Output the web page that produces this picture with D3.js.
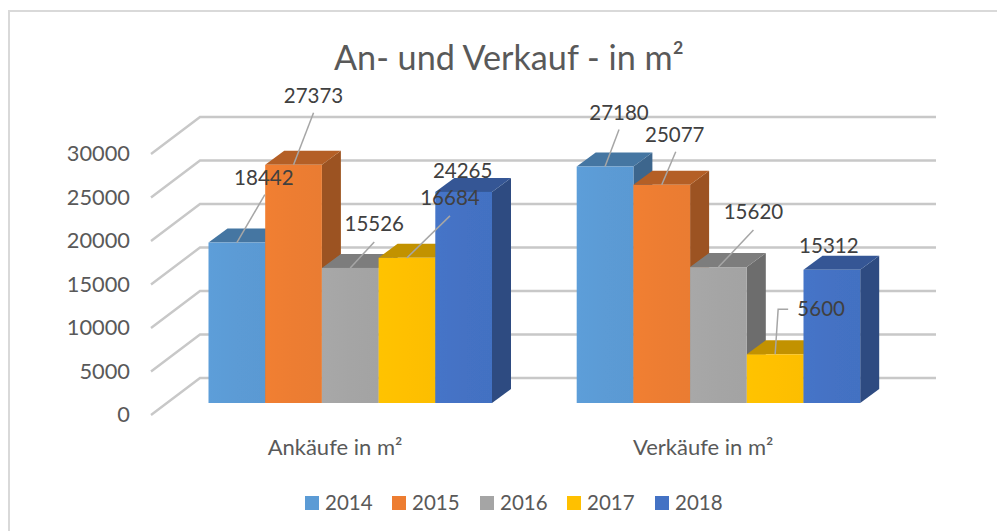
<!DOCTYPE html>
<html>
<head>
<meta charset="utf-8">
<script src="https://cdnjs.cloudflare.com/ajax/libs/d3/7.8.5/d3.min.js"></script>
<style>
html, body { margin: 0; padding: 0; background: #fff; overflow: hidden; }
svg { display: block; font-family: Lato, "Open Sans", sans-serif; }
</style>
</head>
<body>
<script>
var title = 'An- und Verkauf - in m²'
var categories = ['Ankäufe in m²', 'Verkäufe in m²']
var years = ['2014', '2015', '2016', '2017', '2018']
var ankaeufe = [18442, 27373, 15526, 16684, 24265]
var verkaeufe = [27180, 25077, 15620, 5600, 15312]
var yTicks = [0, 5000, 10000, 15000, 20000, 25000, 30000]
var colors = ['#5b9bd5', '#ed7d31', '#a5a5a5', '#ffc000', '#4472c4']

// label placement, relative to the middle of the bar's front top edge
var labelPlace = [
	[[27, -65, 28, -48], [20, -69, 20, -52], [24, -44, 24, -26], [43, -60, 43, -42], [-1, -21]],
	[[14, -54, 14, -37], [13, -50, 14, -33], [35, -55, 35, -37], [46, -45, 13, -45], [-3, -24]]
]

var width = 997, height = 531
var floorY = 403			// bottom of the bar fronts
var depth = {x: 19, y: 14}	// how far a bar goes back
var wall = {x: 49, y: 37}	// side wall diagonal
var wallFrontY = 415, wallLeft = 151, gridRight = 936

var svg = d3.select('body').append('svg')
	.attr('width', width)
	.attr('height', height)

// the frame runs off the right and bottom of the picture
svg.append('rect')
	.attr('x', 9).attr('y', 11)
	.attr('width', 1020).attr('height', 560)
	.attr('fill', '#fff')
	.attr('stroke', '#d9d9d9')
	.attr('stroke-width', 2)

svg.append('defs').append('filter')
	.attr('id', 'soft')
	.append('feGaussianBlur')
	.attr('stdDeviation', 0.45)

var barH = d3.scaleLinear().domain([0, 30000]).range([0, 261])
var yAxisScale = d3.scaleLinear().domain([0, 30000]).range([wallFrontY, wallFrontY - 261])

// one band for each group of bars
var groupLeft = d3.scaleOrdinal().domain(categories).range([208.5, 576.7])
var inner = d3.scaleBand().domain(years).range([0, 283.5])

// gridlines, side wall then back wall
var grid = svg.append('g')
	.attr('fill', 'none')
	.attr('stroke', '#c8c8c8')
	.attr('stroke-width', 2.4)
	.attr('filter', 'url(#soft)')
grid.selectAll('path').data(yTicks).enter().append('path')
	.attr('d', function(d){
		var y = yAxisScale(d)
		return 'M' + wallLeft + ',' + y + 'L' + (wallLeft + wall.x) + ',' + (y - wall.y) + 'H' + gridRight
	})

// value axis
var axis = svg.append('g')
	.attr('transform', 'translate(130,0)')
	.call(d3.axisLeft(yAxisScale).tickValues(yTicks).tickSize(0).tickPadding(0).tickFormat(d3.format('d')))
axis.select('.domain').remove()
axis.selectAll('text')
	.attr('font-size', 21.8)
	.attr('font-family', 'Lato, "Open Sans", sans-serif')
	.attr('fill', '#595959')

var defs = svg.select('defs')
colors.forEach(function(c, i){
	var g = defs.append('linearGradient').attr('id', 'front' + i)
	g.append('stop').attr('offset', '0%').attr('stop-color', d3.rgb(c).brighter(0.05))
	g.append('stop').attr('offset', '50%').attr('stop-color', c)
	g.append('stop').attr('offset', '100%').attr('stop-color', d3.rgb(c).darker(0.03))
})

function shade(c, k){
	var r = d3.rgb(c)
	return d3.rgb(r.r * k, r.g * k, r.b * k)
}

var series = [ankaeufe, verkaeufe]
var labelData = []

categories.forEach(function(cat, g){
	var group = svg.append('g').attr('filter', 'url(#soft)')
	series[g].forEach(function(v, i){
		var x0 = groupLeft(cat) + inner(years[i])
		var x1 = x0 + inner.bandwidth()
		var top = floorY - barH(v)
		var bar = group.append('g')

		bar.append('path')	// side
			.attr('d', 'M' + x1 + ',' + floorY + 'L' + (x1 + depth.x) + ',' + (floorY - depth.y)
				+ 'V' + (top - depth.y) + 'L' + x1 + ',' + top + 'Z')
			.attr('fill', shade(colors[i], 0.66))
		bar.append('path')	// top
			.attr('d', 'M' + x0 + ',' + top + 'L' + (x0 + depth.x) + ',' + (top - depth.y)
				+ 'H' + (x1 + depth.x) + 'L' + x1 + ',' + top + 'Z')
			.attr('fill', shade(colors[i], 0.76))
		bar.append('rect')	// front
			.attr('x', x0).attr('y', top)
			.attr('width', inner.bandwidth())
			.attr('height', barH(v))
			.attr('fill', 'url(#front' + i + ')')

		labelData.push({value: v, cx: (x0 + x1) / 2, top: top, place: labelPlace[g][i]})
	})
})

// leader lines and value labels go over all bars
var labels = svg.append('g')
labelData.forEach(function(d){
	var p = d.place
	if(p.length > 2){
		var pts = [[d.cx, d.top]]
		if(d.value === 5600) pts.push([d.cx + 3, d.top + p[3]])
		pts.push([d.cx + p[2], d.top + p[3]])
		labels.append('path')
			.attr('d', d3.line()(pts))
			.attr('fill', 'none')
			.attr('stroke', '#a6a6a6')
			.attr('stroke-width', 1.5)
	}
	labels.append('text')
		.attr('x', d.cx + p[0])
		.attr('y', d.top + p[1])
		.attr('dy', '0.35em')
		.attr('text-anchor', 'middle')
		.attr('font-size', 20.5)
		.attr('fill', '#404040')
		.text(d.value)
})

svg.append('text')
	.attr('x', 509).attr('y', 58)
	.attr('dy', '0.35em')
	.attr('text-anchor', 'middle')
	.attr('font-size', 34.2)
	.attr('fill', '#595959')
	.text(title)

svg.selectAll('.cat').data(categories).enter().append('text')
	.attr('class', 'cat')
	.attr('x', function(d){ return groupLeft(d) + 126.5 })
	.attr('y', 447)
	.attr('dy', '0.35em')
	.attr('text-anchor', 'middle')
	.attr('font-size', 22)
	.attr('fill', '#595959')
	.text(function(d){ return d })

var legendX = d3.scaleOrdinal().domain(years).range([305, 392, 480, 567, 655])
var legend = svg.selectAll('.legend').data(years).enter().append('g')
	.attr('class', 'legend')
	.attr('transform', function(d){ return 'translate(' + legendX(d) + ',496)' })
legend.append('rect')
	.attr('width', 14).attr('height', 14)
	.attr('fill', function(d, i){ return colors[i] })
legend.append('text')
	.attr('x', 20).attr('y', 7)
	.attr('dy', '0.35em')
	.attr('font-size', 20.5)
	.attr('fill', '#595959')
	.text(function(d){ return d })
</script>
</body>
</html>
